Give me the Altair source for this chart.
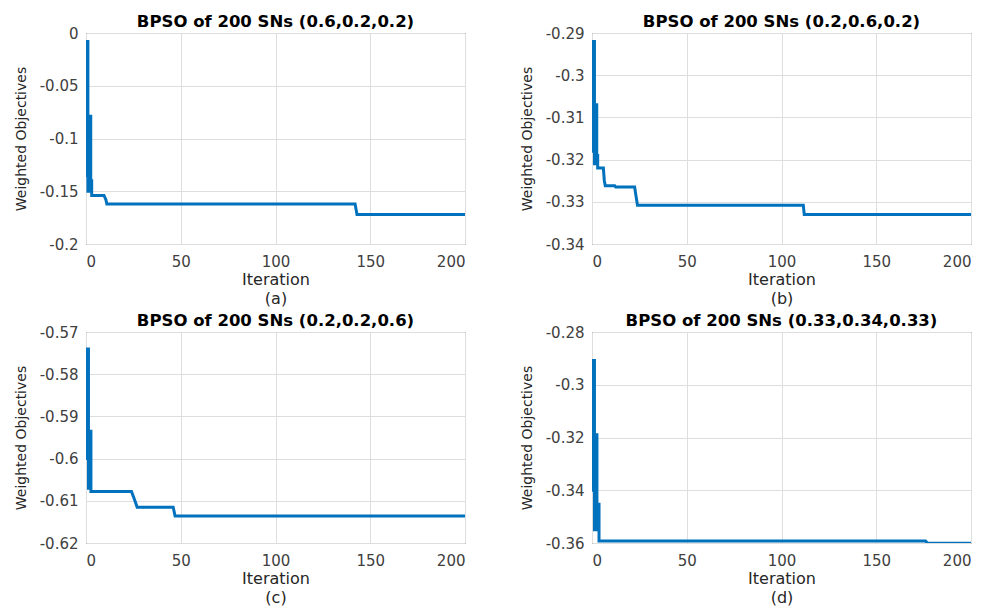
import altair as alt
import pandas as pd

# ---- data ----
iter_a = [0, 0, 0.5, 0.5, 1, 1, 2, 2, 2.5, 2.5, 3, 3, 9.5, 10.5, 11, 142, 143, 200]
val_a = [-0.05, -0.135, -0.135, -0.008, -0.008, -0.15, -0.15, -0.079, -0.079, -0.14, -0.14,
         -0.154, -0.154, -0.158, -0.162, -0.162, -0.172, -0.172]

iter_b = [0, 0, 0.7, 0.7, 1.3, 1.3, 2, 2, 2.5, 2.5, 3, 3, 6, 6.5, 7, 12, 12.5, 22.5, 23, 24,
          111.5, 112, 200]
val_b = [-0.300, -0.318, -0.318, -0.292, -0.292, -0.321, -0.321, -0.307, -0.307, -0.319, -0.319,
         -0.322, -0.322, -0.325, -0.3262, -0.3262, -0.3265, -0.3265, -0.328, -0.3308,
         -0.3308, -0.333, -0.333]

iter_c = [0, 0, 0.7, 0.7, 1.3, 1.3, 2, 2, 2.6, 2.6, 24, 25, 26, 27, 46, 47, 200]
val_c = [-0.585, -0.600, -0.600, -0.574, -0.574, -0.607, -0.607, -0.5935, -0.5935, -0.6078,
         -0.6078, -0.6090, -0.6102, -0.6115, -0.6115, -0.6136, -0.6136]

iter_d = [0, 0, 0.7, 0.7, 1.3, 1.3, 2, 2, 2.6, 2.6, 3.2, 3.2, 3.7, 3.7, 176, 177, 200]
val_d = [-0.307, -0.340, -0.340, -0.2908, -0.2908, -0.355, -0.355, -0.319, -0.319, -0.355,
         -0.355, -0.3453, -0.3453, -0.3592, -0.3592, -0.3601, -0.3601]

titles = ["BPSO of 200 SNs (0.6,0.2,0.2)", "BPSO of 200 SNs (0.2,0.6,0.2)",
          "BPSO of 200 SNs (0.2,0.2,0.6)", "BPSO of 200 SNs (0.33,0.34,0.33)"]
subs = ["(a)", "(b)", "(c)", "(d)"]
x_ticks = [0, 50, 100, 150, 200]
y_dom = [[-0.2, 0], [-0.34, -0.29], [-0.62, -0.57], [-0.36, -0.28]]
y_ticks = [[-0.2, -0.15, -0.1, -0.05, 0],
           [-0.34, -0.33, -0.32, -0.31, -0.3, -0.29],
           [-0.62, -0.61, -0.6, -0.59, -0.58, -0.57],
           [-0.36, -0.34, -0.32, -0.3, -0.28]]

LINE = "#0072BD"


def panel(iters, vals, title, sub, ydom, yt):
    df = pd.DataFrame({"Iteration": iters, "Value": vals, "idx": list(range(len(iters)))})
    return alt.Chart(df).mark_line(color=LINE, strokeWidth=3, clip=True).encode(
        x=alt.X("Iteration:Q",
                scale=alt.Scale(domain=[0, 200], nice=False, zero=False),
                axis=alt.Axis(values=x_ticks, title=["Iteration", sub],
                              titleFont="DejaVu Sans", titleFontSize=16, titleFontWeight="normal",
                              titleLineHeight=19, titlePadding=2, labelPadding=10,
                              titleColor="#262626")),
        y=alt.Y("Value:Q",
                scale=alt.Scale(domain=ydom, nice=False, zero=False),
                axis=alt.Axis(values=yt, title="Weighted Objectives",
                              titleFont="DejaVu Sans", titleFontSize=14,
                              titleFontWeight="normal", titlePadding=11, labelPadding=8,
                              titleColor="#262626",
                              labelExpr="replace(format(datum.value, '~g'), '\u2212', '-')")),
        order="idx:Q",
    ).properties(
        width=379, height=211,
        title=alt.Title(title, frame="group", font="DejaVu Sans", fontSize=16.5,
                        fontWeight="bold", color="#000000", baseline="bottom", offset=-20),
    )


panels = [panel(i, v, t, s, d, yt) for i, v, t, s, d, yt in zip(
    [iter_a, iter_b, iter_c, iter_d], [val_a, val_b, val_c, val_d], titles, subs, y_dom, y_ticks)]

chart = alt.concat(*panels, columns=2, spacing={"row": 88, "column": 127}, bounds="flush").properties(
    padding={"left": 13, "top": 13, "right": 5, "bottom": 0},
    background="white",
).configure_view(
    stroke="#262626", strokeWidth=1
).configure_axis(
    grid=True, gridColor="#dedede", gridWidth=1, domain=False, ticks=False,
    labelFont="DejaVu Sans", labelFontSize=15, labelColor="#404040",
)

chart.save("out.html", embed_options={"renderer": "svg", "actions": False})
